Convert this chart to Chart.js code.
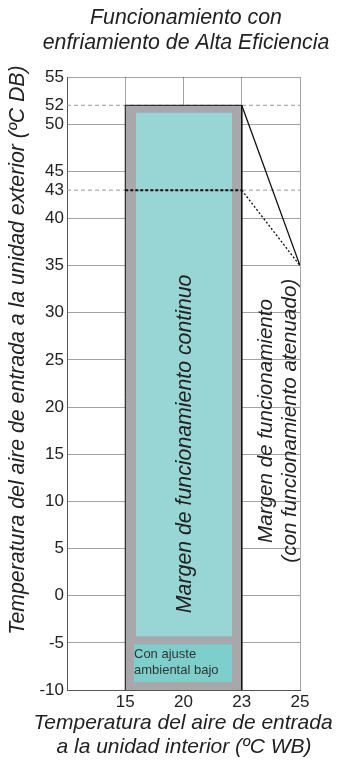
<!DOCTYPE html>
<html><head><meta charset="utf-8">
<script src="https://cdn.jsdelivr.net/npm/chart.js@4"></script>
<style>html,body{margin:0;padding:0;background:#fff}#wrap{width:338px;height:763px;position:relative}</style>
</head><body><div id="wrap"><canvas id="c"></canvas></div>
<script>
// ---- data ----
const xLabels = ['', '15', '20', '23', '25'];           // ºC WB, equally spaced positions 0..4
const yTicks = [55, 52, 50, 45, 43, 40, 35, 30, 25, 20, 15, 10, 5, 0, -5, -10];
const envelopeX = [1, 3];               // 15 .. 23 ºC WB
const envelopeTop = 52;
const envelopeBottom = -10;
const boundaryX = [1, 1, 3, 3];
const boundaryY = [-10, 52, 52, -10];
const continuousX = [1.185, 2.833];
const continuousTop = 51.2;
const continuousBottom = -4.3;
const lowAmbientX = [1.15, 2.833];
const lowAmbientTop = -5.15;
const lowAmbientBottom = -9.15;
const referenceLevels = [52, 43];
const referenceX = [0, 4];
const attenuatedLevelX = [1, 3];
const attenuatedLevel = 43;
const attenuatedSolidX = [3, 4];
const attenuatedSolidY = [52, 35];
const attenuatedDottedX = [3, 4];
const attenuatedDottedY = [43, 35];

const titleLines = ['Funcionamiento con', 'enfriamiento de Alta Eficiencia'];
const yTitle = 'Temperatura del aire de entrada a la unidad exterior (ºC DB)';
const xTitleLines = ['Temperatura del aire de entrada', 'a la unidad interior (ºC WB)'];
const continuousLabel = 'Margen de funcionamiento continuo';
const attenuatedLabels = ['Margen de funcionamiento', '(con funcionamiento atenuado)'];
const lowAmbientLabels = ['Con ajuste', 'ambiental bajo'];

const pts = (xs, ys) => xs.map((x, i) => ({x: x, y: Array.isArray(ys) ? ys[i] : ys}));
const FONT = '"Liberation Sans", Arial, sans-serif';

const datasets = [
  {data: pts(envelopeX, envelopeTop), fill: {value: envelopeBottom}, backgroundColor: '#a8a8ab', borderWidth: 0, order: 10},
  {data: pts(continuousX, continuousTop), fill: {value: continuousBottom}, backgroundColor: '#98d6d5', borderWidth: 0, order: 9},
  {data: pts(lowAmbientX, lowAmbientTop), fill: {value: lowAmbientBottom}, backgroundColor: '#7dcfcb', borderWidth: 0, order: 8},
  ...referenceLevels.map(v => ({data: pts(referenceX, v), borderColor: '#9a9a9a', borderWidth: 1, borderDash: [4, 3], fill: false, order: 7})),
  {data: pts(boundaryX, boundaryY), borderColor: '#111', borderWidth: 1, fill: false, order: 5},
  {data: pts(attenuatedLevelX, attenuatedLevel), borderColor: '#111', borderWidth: 2, borderDash: [3, 2], fill: false, order: 4},
  {data: pts(attenuatedSolidX, attenuatedSolidY), borderColor: '#111', borderWidth: 1.3, fill: false, order: 3},
  {data: pts(attenuatedDottedX, attenuatedDottedY), borderColor: '#111', borderWidth: 1.3, borderDash: [2, 2], fill: false, order: 3}
];

const textPlugin = {
  id: 'texts',
  afterDraw(chart) {
    const ctx = chart.ctx, xs = chart.scales.x, ys = chart.scales.y;
    ctx.save();
    ctx.fillStyle = '#222';
    ctx.textBaseline = 'middle';
    // title
    ctx.font = 'italic 21.3px ' + FONT;
    ctx.textAlign = 'center';
    ctx.fillText(titleLines[0], 186, 18);
    ctx.fillText(titleLines[1], 186, 43);
    // x title
    ctx.font = 'italic 21px ' + FONT;
    ctx.fillText(xTitleLines[0], 183, 723);
    ctx.fillText(xTitleLines[1], 184, 747);
    // y title
    ctx.save();
    ctx.font = 'italic 21.3px ' + FONT;
    ctx.translate(18, 350);
    ctx.rotate(-Math.PI / 2);
    ctx.fillText(yTitle, 0, 0);
    ctx.restore();
    // in-plot rotated labels (start at bottom, run upward)
    ctx.textAlign = 'left';
    const rot = (t, xv, yv) => {
      ctx.save();
      ctx.translate(xs.getPixelForValue(xv), ys.getPixelForValue(yv));
      ctx.rotate(-Math.PI / 2);
      ctx.fillText(t, 0, 0);
      ctx.restore();
    };
    ctx.font = 'italic 21.3px ' + FONT;
    rot(continuousLabel, 2.02, -1.85);
    ctx.font = 'italic 20.6px ' + FONT;
    rot(attenuatedLabels[0], 3.42, 5.6);
    rot(attenuatedLabels[1], 3.83, 3.5);
    // low ambient text
    ctx.font = '13px ' + FONT;
    ctx.fillStyle = '#333';
    ctx.fillText(lowAmbientLabels[0], xs.getPixelForValue(1.15), ys.getPixelForValue(-6.25));
    ctx.fillText(lowAmbientLabels[1], xs.getPixelForValue(1.15), ys.getPixelForValue(-7.95));
    ctx.restore();
  }
};

const gridColor = 'rgba(0,0,0,0.36)';
new Chart(document.getElementById('c'), {
  type: 'line',
  data: {datasets: datasets},
  options: {
    responsive: true,
    maintainAspectRatio: false,
    animation: false,
    events: [],
    layout: {padding: {left: 0, top: 77, right: 38, bottom: 48}},
    elements: {point: {radius: 0}, line: {tension: 0}},
    plugins: {legend: {display: false}, tooltip: {enabled: false}, title: {display: false}},
    scales: {
      x: {
        type: 'linear', min: 0, max: 4, z: 1,
        afterFit: s => { s.height = 25; },
        afterBuildTicks: s => { s.ticks = xLabels.map((l, i) => ({value: i})); },
        ticks: {autoSkip: false, padding: 2, color: '#222', font: {family: FONT, size: 17},
                callback: v => xLabels[v]},
        grid: {drawTicks: false, color: gridColor, lineWidth: 1},
        border: {color: '#555', width: 1}
      },
      y: {
        type: 'linear', min: -10, max: 55, z: 1,
        afterFit: s => { s.width = 67; },
        afterBuildTicks: s => { s.ticks = yTicks.map(v => ({value: v})); },
        ticks: {autoSkip: false, padding: 3, color: '#222', font: {family: FONT, size: 17}},
        grid: {drawTicks: false, lineWidth: 1,
               color: c => (referenceLevels.includes(c.tick && c.tick.value) ? 'rgba(0,0,0,0)' : gridColor)},
        border: {color: '#555', width: 1}
      }
    }
  },
  plugins: [textPlugin]
});
</script></body></html>
